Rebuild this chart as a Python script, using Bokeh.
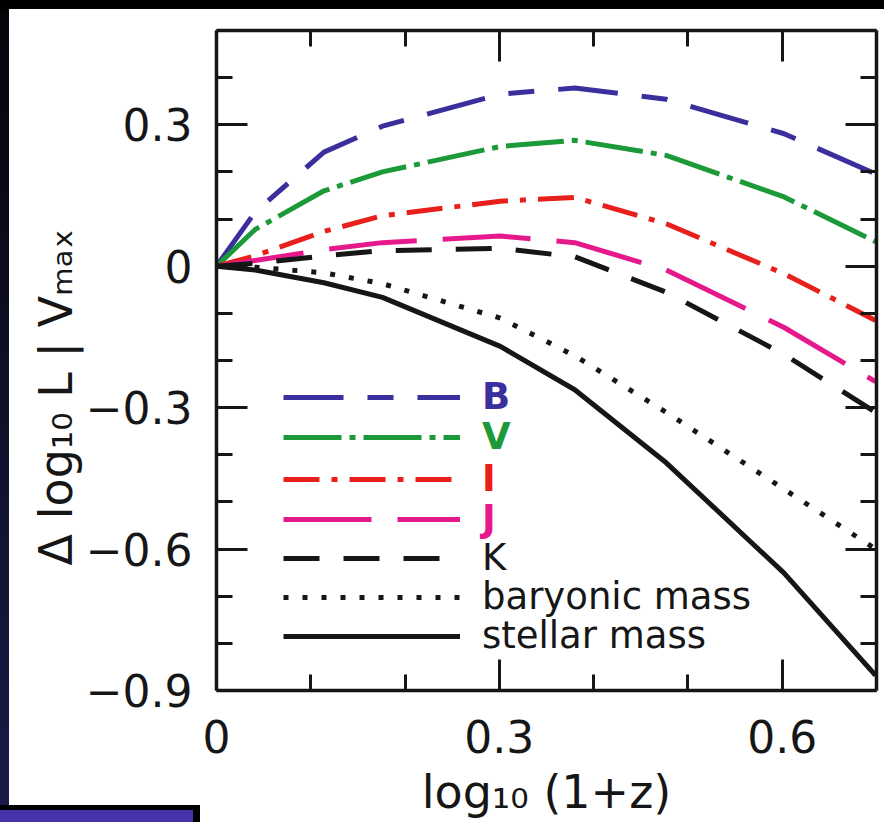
from bokeh.plotting import figure
from bokeh.models import LinearAxis, FixedTicker, Legend, LegendItem, Range1d
from bokeh.embed import file_html
from bokeh.resources import INLINE

# ---- data ----
log1pz = [0, 0.041, 0.114, 0.176, 0.301, 0.380, 0.477, 0.602, 0.699]
band_B = [0, 0.115, 0.242, 0.297, 0.365, 0.378, 0.354, 0.281, 0.196]
band_V = [0, 0.078, 0.160, 0.200, 0.254, 0.267, 0.235, 0.147, 0.052]
band_I = [0, 0.022, 0.074, 0.107, 0.138, 0.146, 0.090, -0.016, -0.115]
band_J = [0, 0.012, 0.035, 0.050, 0.064, 0.050, -0.008, -0.130, -0.245]
band_K = [0, 0.006, 0.022, 0.033, 0.038, 0.020, -0.055, -0.187, -0.310]
baryonic_mass = [0, -0.002, -0.014, -0.037, -0.110, -0.190, -0.310, -0.473, -0.600]
stellar_mass = [0, -0.008, -0.035, -0.066, -0.170, -0.262, -0.417, -0.651, -0.868]

series_labels = ["B", "V", "I", "J", "K", "baryonic mass", "stellar mass"]

x_major = [0, 0.3, 0.6]
x_minor = [0.1, 0.2, 0.4, 0.5, 0.7]
y_major = [-0.9, -0.6, -0.3, 0, 0.3]
y_minor = [-0.8, -0.7, -0.5, -0.4, -0.2, -0.1, 0.1, 0.2, 0.4, 0.5]
x_tick_text = {0: "0", 0.3: "0.3", 0.6: "0.6"}
y_tick_text = {-0.9: "\u22120.9", -0.6: "\u22120.6", -0.3: "\u22120.3", 0: "0", 0.3: "0.3"}

FONT = "DejaVu Sans"
INK = "#161616"

p = figure(frame_width=660, frame_height=660,
           x_range=Range1d(0, 0.7), y_range=Range1d(-0.9, 0.5),
           output_backend="svg", toolbar_location=None,
           min_border_left=216, min_border_right=8,
           min_border_top=30, min_border_bottom=132)
p.background_fill_color = "white"
p.border_fill_color = None
p.outline_line_color = None
p.xgrid.visible = False
p.ygrid.visible = False
# page-edge decoration seen in the reference: dark top band, dark left strip,
# and the clipped purple caption box in the bottom-left corner
p.styles = {
    "background-color": "white",
    "background-image": ("linear-gradient(#4433aa,#4433aa), linear-gradient(#000,#000), "
                         "linear-gradient(#000,#000), linear-gradient(#050508,#1a1a48)"),
    "background-size": "193px 20px, 200px 25px, 100% 9px, 9px 805px",
    "background-position": "0px 810px, 0px 805px, 0px 0px, 0px 0px",
    "background-repeat": "no-repeat",
}


def style_axis(ax, major, minor, labels, show):
    ax.ticker = FixedTicker(ticks=major, minor_ticks=minor)
    ax.major_tick_in = 31
    ax.major_tick_out = 0
    ax.minor_tick_in = 16
    ax.minor_tick_out = 0
    ax.major_tick_line_width = 3
    ax.minor_tick_line_width = 3
    ax.axis_line_width = 3.5
    ax.axis_line_color = INK
    ax.major_tick_line_color = INK
    ax.minor_tick_line_color = INK
    if show:
        ax.major_label_overrides = labels
        ax.major_label_text_font = FONT
        ax.major_label_text_font_size = "44px"
        ax.major_label_text_color = INK
    else:
        ax.major_label_text_font_size = "0px"
        ax.major_label_text_alpha = 0


xb = p.xaxis[0]
yl = p.yaxis[0]
style_axis(xb, x_major, x_minor, x_tick_text, True)
style_axis(yl, y_major, y_minor, y_tick_text, True)
xb.major_label_standoff = 29
yl.major_label_standoff = 24

xb.axis_label = "log\u2081\u2080 (1+z)"
xb.axis_label_text_font = FONT
xb.axis_label_text_font_size = "46px"
xb.axis_label_text_font_style = "normal"
xb.axis_label_text_color = INK
xb.axis_label_standoff = 9

yl.axis_label = "\u0394 log\u2081\u2080 L | V\u2098\u2090\u2093" + "\u00a0" * 5
yl.axis_label_text_font = FONT
yl.axis_label_text_font_size = "46px"
yl.axis_label_text_font_style = "normal"
yl.axis_label_text_color = INK
yl.axis_label_standoff = 0

xt = LinearAxis()
style_axis(xt, x_major, x_minor, {}, False)
p.add_layout(xt, "above")
yr = LinearAxis()
style_axis(yr, y_major, y_minor, {}, False)
p.add_layout(yr, "right")

# ---- curves ----
specs = [
    (band_B, "#3a2f9c", "60 24 26 24", 5, "bold"),
    (band_V, "#1c9a3a", "58 8 6 8", 5, "bold"),
    (band_I, "#e8201c", "36 12 6 12", 5, "bold"),
    (band_J, "#e6198c", "88 26", 5, "bold"),
    (band_K, INK, "36 24", 5, "normal"),
    (baryonic_mass, INK, "5 14", 5, "normal"),
    (stellar_mass, INK, "solid", 5, "normal"),
]

renderers = []
for ys, col, dash, lw, _ in specs:
    r = p.line(log1pz, ys, line_color=col, line_width=lw, line_dash=dash,
               line_join="round")
    renderers.append(r)

# ---- legend: one block per entry so each label keeps its own colour ----
row_offsets = [272, 232, 190, 150, 111, 72, 33]
for (ys, col, dash, lw, fstyle), r, lab, off in zip(specs, renderers, series_labels, row_offsets):
    leg = Legend(items=[LegendItem(label=lab, renderers=[r])],
                 location=(67, off), orientation="vertical",
                 glyph_width=177, glyph_height=40, label_height=40,
                 label_standoff=22, padding=0, margin=0, spacing=0,
                 border_line_color=None, background_fill_alpha=0,
                 label_text_font=FONT, label_text_font_size="37px",
                 label_text_color=col, label_text_font_style=fstyle)
    p.add_layout(leg)

open("out.html", "w").write(file_html(p, INLINE))
